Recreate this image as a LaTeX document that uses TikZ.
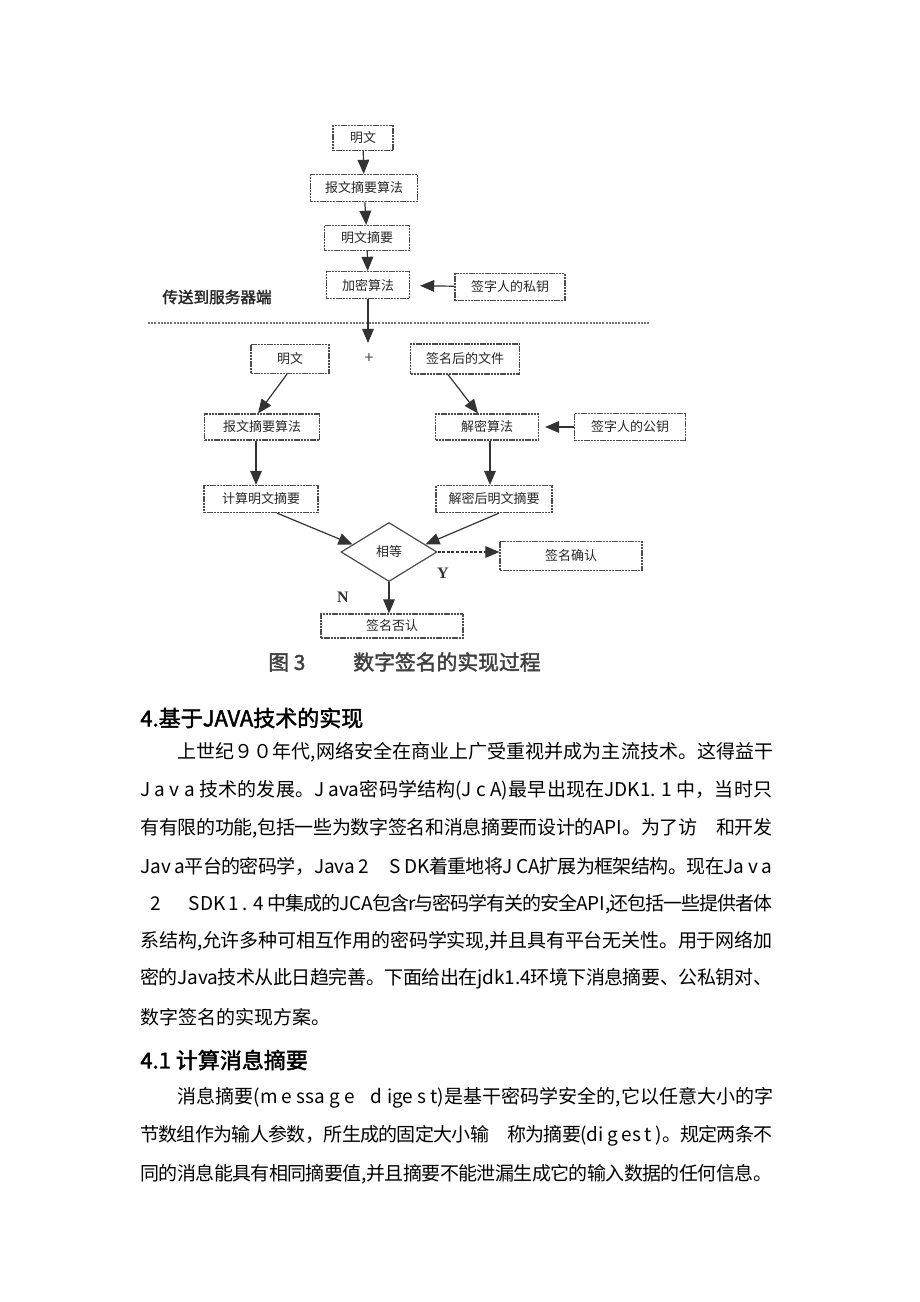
\documentclass[tikz,border=0pt]{standalone}
\usepackage{fontspec}
\setmainfont{Liberation Serif}
\newfontfamily\cjk{Noto Sans CJK SC}
\newfontfamily\cjkbold{Noto Sans CJK SC}[FakeBold=2]
\XeTeXlinebreaklocale "zh"
\XeTeXlinebreakskip=0pt plus 3pt minus 0.8pt
\usetikzlibrary{
    arrows,
    shapes.geometric,
    calc
}
\tikzstyle{box} = [rectangle, draw=black!70, dash pattern=on 1.2pt off 0.4pt, line width=0.6pt, inner sep=0, font=\cjk\fontsize{6.5}{8}\selectfont, text=black!85]
\tikzstyle{decide} = [diamond, draw=black!70, line width=0.6pt, inner sep=0, minimum width=48pt, minimum height=29.5pt, font=\cjk\fontsize{6.5}{8}\selectfont, text=black!85]
\tikzstyle{link} = [->, >=triangle 45, draw=black!80, line width=0.6pt]
\tikzstyle{yesno} = [font=\fontsize{8}{9}\selectfont\bfseries, text=black!80]
\tikzstyle{separator} = [draw=black!55, line width=0.9pt, dash pattern=on 1pt off 0.6pt]
\tikzstyle{body} = [anchor=west, inner sep=0, font=\cjk\fontsize{9.5}{11}\selectfont]
\tikzstyle{head} = [anchor=west, inner sep=0, font=\cjkbold\fontsize{11}{13}\selectfont]

% one justified line of the page text
\newcommand{\fullline}[2][316pt]{\parbox{#1}{\tolerance=10000\parfillskip=0pt\relax #2}}

\begin{document}
\begin{tikzpicture}[x=0.5pt, y=-0.5pt]
    \useasboundingbox (0,0) rectangle (920,1302);

    % sender side
    \node[box, minimum width=30pt, minimum height=12.5pt] (Plain1) at (363,138) {明文};
    \node[box, minimum width=53.5pt, minimum height=13.5pt] (Digest1) at (364,188) {报文摘要算法};
    \node[box, minimum width=42.5pt, minimum height=12.5pt] (Sum1) at (367,238) {明文摘要};
    \node[box, minimum width=41.5pt, minimum height=13.5pt] (Enc) at (368,285) {加密算法};
    \node[box, minimum width=55pt, minimum height=13.5pt] (PrivKey) at (510,287) {签字人的私钥};
    \node[font=\cjkbold\fontsize{7.8}{9}\selectfont, text=black!85] (Send) at (217,297) {传送到服务器端};

    \coordinate (SepL) at (148,323);
    \coordinate (SepR) at (650,323);
    \coordinate (Arrive) at (369,343);
    \draw[separator] (SepL) -- (SepR);

    % server side
    \node[box, minimum width=39pt, minimum height=14.5pt] (Plain2) at (290,359) {明文};
    \node[font=\cjk\fontsize{8}{9}\selectfont, text=black!70] (Plus) at (369,359) {+};
    \node[box, minimum width=54.5pt, minimum height=15pt] (Signed) at (465,359) {签名后的文件};
    \node[box, minimum width=57.5pt, minimum height=13pt] (Digest2) at (262,427) {报文摘要算法};
    \node[box, minimum width=51.5pt, minimum height=13pt] (Dec) at (487,427) {解密算法};
    \node[box, minimum width=55.5pt, minimum height=13.5pt] (PubKey) at (630,427) {签字人的公钥};
    \node[box, minimum width=57pt, minimum height=13.5pt] (Sum2) at (261,499) {计算明文摘要};
    \node[box, minimum width=58pt, minimum height=13.5pt] (DecSum) at (494,499) {解密后明文摘要};
    \node[decide] (Equal) at (389,552) {相等};
    \node[box, minimum width=71pt, minimum height=14.5pt] (Accept) at (571,556) {签名确认};
    \node[box, minimum width=71pt, minimum height=12pt] (Reject) at (392,626) {签名否认};
    \node[yesno] (Yes) at (443,573) {Y};
    \node[yesno] (No) at (343,597) {N};

    \node[anchor=west, inner sep=0, font=\cjkbold\fontsize{10.4}{12}\selectfont, text=black!75] (Caption) at (268,662) {图 3\hspace{24pt}数字签名的实现过程};

    \foreach \A / \B in {Plain1/Digest1, Digest1/Sum1, Sum1/Enc}{
    \draw[link] (\A) -- (\B);
    }
    \draw[link, shorten >=5pt] (PrivKey) -- (Enc);
    \draw[link] (Enc) -- (Enc.south |- Arrive);

    \draw[link] ([xshift=-1.5pt]Plain2.south) -- ([xshift=-2pt]Digest2.north);
    \draw[link] ([xshift=-8.5pt]Signed.south) -- ([xshift=-4.5pt]Dec.north);
    \draw[link] ([xshift=-3pt]Digest2.south) -- ([xshift=-2.5pt]Sum2.north);
    \draw[link] ([xshift=1.5pt]Dec.south) -- ([xshift=-2pt]DecSum.north);
    \draw[link, shorten >=3pt] (PubKey) -- (Dec);

    \draw[link] ([xshift=8pt]Sum2.south) -- ($(Equal.west)!0.25!(Equal.north)$);
    \draw[link] ([xshift=2.5pt]DecSum.south) -- ($(Equal.east)!0.25!(Equal.north)$);
    \draw[link, dash pattern=on 1.5pt off 0.8pt] (Equal.east) -- (Equal.east -| Accept.west);
    \draw[link] (Equal.south) -- (Equal.south |- Reject.north);

    % text of the page
    \node[head] (Sec4) at (140,718) {4.基于JAVA技术的实现};
    \node[body] (P1a) at (177,752) {\fullline[298pt]{上世纪９０年代,网络安全在商业上广受重视并成为主流技术。这得益干}};
    \node[body] (P1b) at (140,790) {\fullline{J a v a 技术的发展。J ava密码学结构(J c A)最早出现在JDK1. 1 中，当时只}};
    \node[body] (P1c) at (140,828) {\fullline{有有限的功能,包括一些为数字签名和消息摘要而设计的API。为了访　和开发}};
    \node[body] (P1d) at (140,866) {\fullline{Jav a平台的密码学，Java 2\hspace{10pt}S DK着重地将J CA扩展为框架结构。现在Ja v a}};
    \node[body] (P1e) at (140,904) {\fullline{\hspace*{5pt}2\hspace{14pt}SDK 1 . 4 中集成的JCA包含r与密码学有关的安全API,还包括一些提供者体}};
    \node[body] (P1f) at (140,941) {\fullline{系结构,允许多种可相互作用的密码学实现,并且具有平台无关性。用于网络加}};
    \node[body] (P1g) at (140,979) {\fullline{密的Java技术从此日趋完善。下面给出在jdk1.4环境下消息摘要、公私钥对、}};
    \node[body] (P1h) at (140,1017) {数字签名的实现方案。};

    \node[head] (Sec41) at (140,1060) {4.1 计算消息摘要};
    \node[body] (P2a) at (177,1098) {\fullline[298pt]{消息摘要(m e ssa g e\hspace{8pt}d ige s t)是基干密码学安全的,它以任意大小的字}};
    \node[body] (P2b) at (140,1136) {\fullline{节数组作为输人参数，所生成的固定大小输　称为摘要(di g es t )。规定两条不}};
    \node[body] (P2c) at (140,1174) {\fullline{同的消息能具有相同摘要值,并且摘要不能泄漏生成它的输入数据的任何信息。}};
\end{tikzpicture}
\end{document}
